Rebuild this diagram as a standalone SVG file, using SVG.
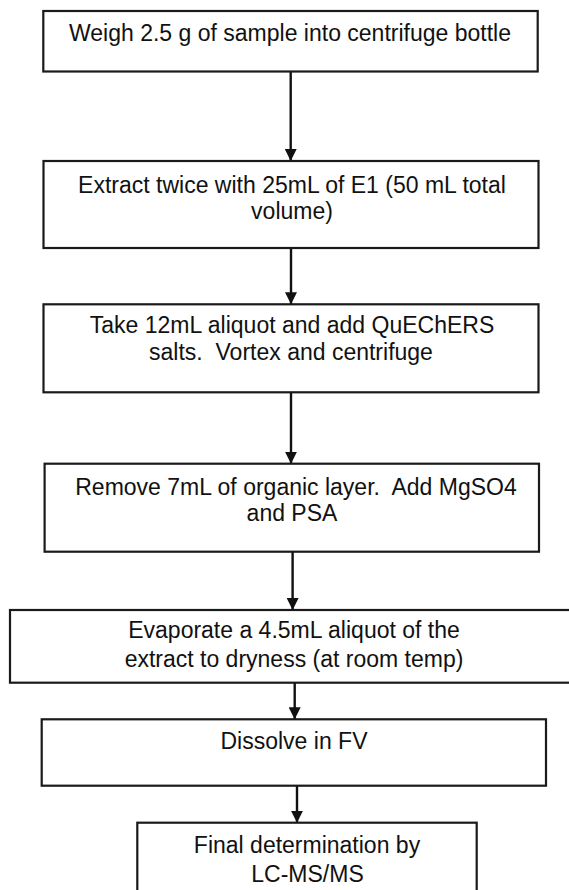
<svg xmlns="http://www.w3.org/2000/svg" width="569" height="890" viewBox="0 0 569 890">
<style>
.box{fill:#fff;stroke:#1a1a1a;stroke-width:2.2}
.t{font-family:"Liberation Sans",Arial,sans-serif;font-size:23px;fill:#111;text-anchor:middle}
.c{stroke:#111;stroke-width:2.4;fill:none;marker-end:url(#ah)}
</style>
<defs>
<marker id="ah" markerUnits="userSpaceOnUse" markerWidth="12" markerHeight="12" viewBox="0 0 12 12" refX="12" refY="6" orient="auto">
<polygon points="0,0 12,6 0,12" fill="#111"/>
</marker>
</defs>
<rect width="569" height="890" fill="#fff"/>
<g id="connectors">
<path class="c" d="M290.7,71.5 V161"/>
<path class="c" d="M291,248 V304.3"/>
<path class="c" d="M291,392.3 V463.7"/>
<path class="c" d="M292.6,551.7 V610"/>
<path class="c" d="M294.7,682.7 V719.3"/>
<path class="c" d="M297,785.7 V822.7"/>
</g>
<g id="n1">
<rect class="box" x="43.3" y="11" width="494.4" height="60.5"/>
<text class="t" x="290" y="40.5">Weigh 2.5 g of sample into centrifuge bottle</text>
</g>
<g id="n2">
<rect class="box" x="43.5" y="161" width="495" height="87"/>
<text class="t" x="292" y="193">Extract twice with 25mL of E1 (50 mL total</text>
<text class="t" x="292" y="218.5">volume)</text>
</g>
<g id="n3">
<rect class="box" x="43.5" y="304.3" width="495" height="88"/>
<text class="t" x="292" y="333.3" xml:space="preserve">Take 12mL aliquot and add QuEChERS</text>
<text class="t" x="291" y="360" xml:space="preserve">salts.  Vortex and centrifuge</text>
</g>
<g id="n4">
<rect class="box" x="44.6" y="463.7" width="494.4" height="88"/>
<text class="t" x="296" y="495" xml:space="preserve">Remove 7mL of organic layer.  Add MgSO4</text>
<text class="t" x="292" y="520.5">and PSA</text>
</g>
<g id="n5">
<rect class="box" x="10" y="610" width="570" height="72.7"/>
<text class="t" x="294" y="638">Evaporate a 4.5mL aliquot of the</text>
<text class="t" x="294" y="666.7">extract to dryness (at room temp)</text>
</g>
<g id="n6">
<rect class="box" x="41.7" y="719.3" width="504.3" height="66.4"/>
<text class="t" x="294" y="749">Dissolve in FV</text>
</g>
<g id="n7">
<rect class="box" x="137.3" y="822.7" width="339.4" height="80"/>
<text class="t" x="307" y="853">Final determination by</text>
<text class="t" x="307.5" y="881.5">LC-MS/MS</text>
</g>
</svg>
